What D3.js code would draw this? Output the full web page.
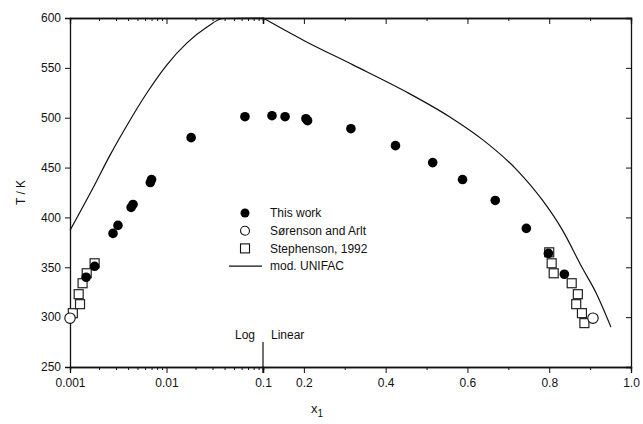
<!DOCTYPE html>
<html>
<head>
<meta charset="utf-8">
<script src="https://cdn.jsdelivr.net/npm/d3@7"></script>
<style>
  body { margin: 0; background: #fff; }
  text { font-family: "Liberation Sans", Arial, sans-serif; fill: #111; }
</style>
</head>
<body>
<svg id="chart" width="643" height="424"></svg>
<script>
// data
const thisWorkX = [0.00147, 0.0018, 0.00279, 0.00314, 0.0043, 0.0045, 0.0068, 0.0070, 0.018, 0.065, 0.122, 0.154, 0.205, 0.209, 0.315, 0.424, 0.515, 0.588, 0.668, 0.744, 0.798, 0.837];
const thisWorkT = [340, 351, 384, 392, 410, 413, 435, 438, 480, 501, 502, 501, 499, 497, 489, 472, 455, 438, 417, 389, 364, 343];

const sorensonX = [0.001, 0.907];
const sorensonT = [299, 299];

const stephensonX = [0.00107, 0.00127, 0.00123, 0.00135, 0.00149, 0.0018, 0.800, 0.806, 0.811, 0.855, 0.870, 0.866, 0.880, 0.886];
const stephensonT = [304, 313, 323, 334, 344, 354, 365, 354, 344, 334, 323, 313, 304, 294];

const unifacX = [0.001, 0.00173, 0.0026, 0.0039, 0.00628, 0.0101, 0.0163, 0.0263, 0.0385, 0.1, 0.202, 0.32, 0.45, 0.556, 0.637, 0.72, 0.783, 0.832, 0.88, 0.915, 0.951];
const unifacT = [387, 429.5, 462.5, 492.5, 525, 553, 575, 591, 599.5, 600, 577, 553, 526, 501, 478, 448, 417.5, 387.5, 350, 324, 290];

const logTicks = [0.001, 0.01, 0.1];
const linTicks = [0.2, 0.4, 0.6, 0.8, 1.0];
const yTicks = [250, 300, 350, 400, 450, 500, 550, 600];

const svg = d3.select("#chart");

// split x axis: log up to 0.1, linear after
const plotLeft = 70, plotSplit = 263, plotRight = 631, plotTop = 18, plotBottom = 367;
const xLog = d3.scaleLog().domain([0.001, 0.1]).range([plotLeft, plotSplit]);
const xLin = d3.scaleLinear().domain([0.1, 1.0]).range([plotSplit, plotRight]);
const x = v => v <= 0.1 ? xLog(v) : xLin(v);
const y = d3.scaleLinear().domain([250, 600]).range([plotBottom, plotTop]);

const minorLog = [];
[0.001, 0.01].forEach(d => { for (let k = 2; k <= 9; k++) minorLog.push(d * k); });
const minorLin = [0.3, 0.5, 0.7, 0.9];

function styleAxis(g) {
  g.selectAll("path").attr("stroke", "#111").attr("stroke-width", 1.3);
  g.selectAll("line").attr("stroke", "#111");
  g.selectAll("text").attr("font-size", 12).style("fill", "#111")
    .attr("font-family", "Liberation Sans, Arial, sans-serif");
}

// bottom axes
svg.append("g").attr("transform", `translate(0,${plotBottom})`)
  .call(d3.axisBottom(xLog).tickValues(logTicks).tickSize(6).tickPadding(5).tickFormat(d3.format("")))
  .call(styleAxis);
svg.append("g").attr("transform", `translate(0,${plotBottom})`)
  .call(d3.axisBottom(xLog).tickValues(minorLog).tickSize(3).tickFormat(""))
  .call(styleAxis);
svg.append("g").attr("transform", `translate(0,${plotBottom})`)
  .call(d3.axisBottom(xLin).tickValues(linTicks).tickSize(6).tickPadding(5).tickFormat(d3.format(".1f")))
  .call(styleAxis);
svg.append("g").attr("transform", `translate(0,${plotBottom})`)
  .call(d3.axisBottom(xLin).tickValues(minorLin).tickSize(3).tickFormat(""))
  .call(styleAxis);

// top axes, ticks inward
svg.append("g").attr("transform", `translate(0,${plotTop})`)
  .call(d3.axisTop(xLog).tickValues(logTicks).tickSize(-6).tickFormat(""))
  .call(styleAxis);
svg.append("g").attr("transform", `translate(0,${plotTop})`)
  .call(d3.axisTop(xLog).tickValues(minorLog).tickSize(-3).tickFormat(""))
  .call(styleAxis);
svg.append("g").attr("transform", `translate(0,${plotTop})`)
  .call(d3.axisTop(xLin).tickValues(linTicks).tickSize(-6).tickFormat(""))
  .call(styleAxis);
svg.append("g").attr("transform", `translate(0,${plotTop})`)
  .call(d3.axisTop(xLin).tickValues(minorLin).tickSize(-3).tickFormat(""))
  .call(styleAxis);

// y axes
svg.append("g").attr("transform", `translate(${plotLeft},0)`)
  .call(d3.axisLeft(y).tickValues(yTicks).tickSize(5).tickPadding(4))
  .call(styleAxis);
svg.append("g").attr("transform", `translate(${plotRight},0)`)
  .call(d3.axisRight(y).tickValues(yTicks).tickSize(-5).tickFormat(""))
  .call(styleAxis);

// Log / Linear divider
svg.append("line")
  .attr("x1", x(0.1)).attr("x2", x(0.1))
  .attr("y1", y(275)).attr("y2", plotBottom + 6)
  .attr("stroke", "#111").attr("stroke-width", 1.2);
svg.append("text").attr("x", x(0.1) - 8).attr("y", y(282)).attr("dy", "0.35em")
  .attr("text-anchor", "end").attr("font-size", 12).text("Log");
svg.append("text").attr("x", x(0.1) + 8).attr("y", y(282)).attr("dy", "0.35em")
  .attr("font-size", 12).text("Linear");

// axis titles
svg.append("text")
  .attr("transform", `translate(21,${(plotTop + plotBottom) / 2}) rotate(-90)`)
  .attr("text-anchor", "middle").attr("dy", "0.35em").attr("font-size", 12)
  .text("T / K");
const xt = svg.append("text").attr("x", 311).attr("y", 413).attr("font-size", 13);
xt.append("tspan").text("x");
xt.append("tspan").attr("font-size", 10).attr("dy", 4).text("1");

// mod. UNIFAC curve, drawn as two pieces so the corner at 0.1 stays sharp
const unifac = unifacX.map((v, i) => [v, unifacT[i]]);
const unifacLine = d3.line().x(d => x(d[0])).y(d => y(d[1])).curve(d3.curveMonotoneX);
[unifac.filter(d => d[0] <= 0.1), unifac.filter(d => d[0] >= 0.1)].forEach(part => {
  svg.append("path")
    .datum(part)
    .attr("fill", "none").attr("stroke", "#111").attr("stroke-width", 1.2)
    .attr("d", unifacLine);
});

// Stephenson squares
const sq = 9;
svg.append("g").selectAll("rect")
  .data(stephensonX.map((v, i) => [v, stephensonT[i]]))
  .join("rect")
  .attr("x", d => x(d[0]) - sq / 2).attr("y", d => y(d[1]) - sq / 2)
  .attr("width", sq).attr("height", sq)
  .attr("fill", "#fff").attr("stroke", "#222").attr("stroke-width", 1.2);

// Sorenson open circles
svg.append("g").selectAll("circle")
  .data(sorensonX.map((v, i) => [v, sorensonT[i]]))
  .join("circle")
  .attr("cx", d => x(d[0])).attr("cy", d => y(d[1])).attr("r", 5.2)
  .attr("fill", "#fff").attr("stroke", "#111").attr("stroke-width", 1.1);

// this work filled circles
svg.append("g").selectAll("circle")
  .data(thisWorkX.map((v, i) => [v, thisWorkT[i]]))
  .join("circle")
  .attr("cx", d => x(d[0])).attr("cy", d => y(d[1])).attr("r", 4.8)
  .attr("fill", "#000");

// legend
const lg = svg.append("g").attr("transform", "translate(245,213)");
const rowH = 17.7;
lg.append("circle").attr("cx", 0).attr("cy", 0).attr("r", 4.5).attr("fill", "#000");
lg.append("circle").attr("cx", 0).attr("cy", rowH).attr("r", 4.5)
  .attr("fill", "#fff").attr("stroke", "#111").attr("stroke-width", 1.1);
lg.append("rect").attr("x", -4.5).attr("y", 2 * rowH - 4.5).attr("width", 9).attr("height", 9)
  .attr("fill", "#fff").attr("stroke", "#111").attr("stroke-width", 1.1);
lg.append("line").attr("x1", -16).attr("x2", 17).attr("y1", 3 * rowH).attr("y2", 3 * rowH)
  .attr("stroke", "#111").attr("stroke-width", 1.3);
["This work", "Sørenson and Arlt", "Stephenson, 1992", "mod. UNIFAC"].forEach((t, i) => {
  lg.append("text").attr("x", 25).attr("y", i * rowH).attr("dy", "0.35em")
    .attr("font-size", 12).text(t);
});
</script>
</body>
</html>
